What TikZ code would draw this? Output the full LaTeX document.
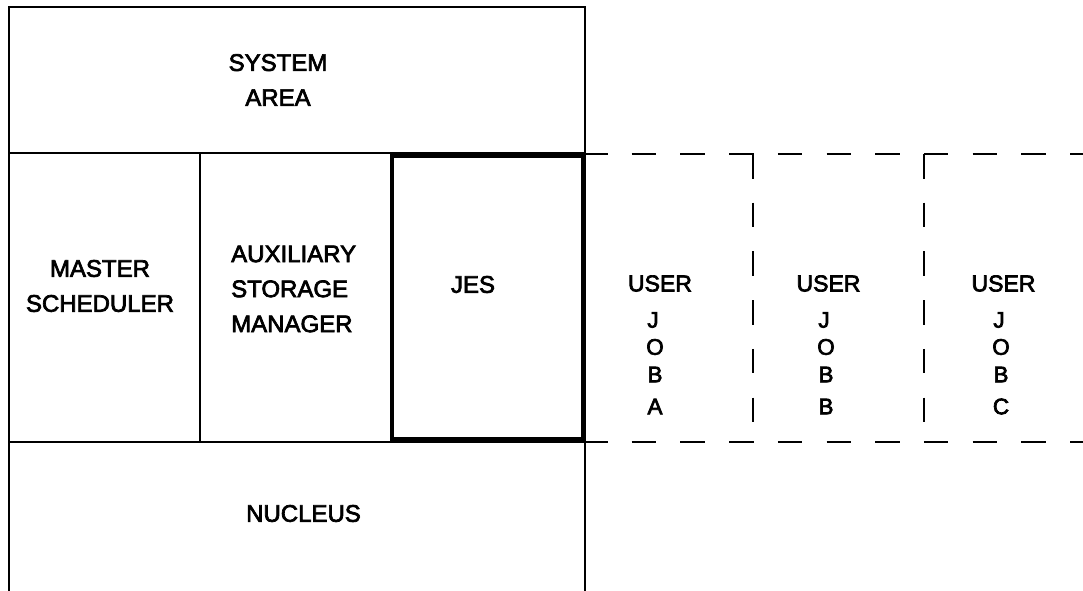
\documentclass[tikz,border=0pt]{standalone}
\usepackage{fontspec}
\setmainfont{Liberation Sans}
\newcommand\heavytxt{\special{pdf:literal direct 2 Tr 0.7 w}}
\begin{document}
\begin{tikzpicture}[x=1pt,y=-1pt,
  thinline/.style={line width=2.4pt},
  thickline/.style={line width=4.8pt},
  dashline/.style={line width=2.6pt, dash pattern=on 24.5pt off 24.2pt},
  lbl/.style={inner sep=0pt, align=center, font=\fontsize{24}{35}\selectfont},
  ltr/.style={inner sep=0pt, anchor=center, font=\fontsize{22.5}{24}\selectfont}
]
\useasboundingbox (0,0) rectangle (1083,590);
% solid frame
\draw[thinline] (9,600) -- (9,7) -- (585,7) -- (585,600);
\draw[thinline] (9,153) -- (585,153);
\draw[thinline] (9,442) -- (585,442);
\draw[thinline] (200,153) -- (200,442);
\draw[thinline] (391,153) -- (391,442);
% JES thick box
\draw[thickline] (392,155.5) rectangle (583,439.5);
% dashed user region
\draw[dashline] (583,154) -- (1090,154);
\draw[dashline] (583,442) -- (1090,442);
\draw[dashline] (753,154) -- (753,423);
\draw[dashline] (924,154) -- (924,423);
% labels
\node[lbl] (sys) at (278,80) {\heavytxt SYSTEM\\\heavytxt AREA};
\node[lbl] (ms) at (100,286) {\heavytxt MASTER\\\heavytxt SCHEDULER};
\node[lbl, align=left, anchor=west] (asm) at (231,289) {\heavytxt AUXILIARY\\\heavytxt STORAGE\\\heavytxt MANAGER};
\node[lbl] (jes) at (473,284.5) {\heavytxt JES};
\node[lbl] (nuc) at (303.5,513.5) {\heavytxt NUCLEUS};
% user jobs
\foreach \ux/\lx/\c/\n in {660/655/A/a, 828.5/826/B/b, 1003.5/1001/C/c}{
  \node[ltr, font=\fontsize{23}{24}\selectfont] (user\n) at (\ux,283.5) {\heavytxt USER};
  \node[ltr] (j\n) at (\lx-2,320) {\heavytxt J};
  \node[ltr] (o\n) at (\lx,347) {\heavytxt O};
  \node[ltr] (b\n) at (\lx,374.5) {\heavytxt B};
  \node[ltr] (l\n) at (\lx,406.5) {\heavytxt \c};
}
\end{tikzpicture}
\end{document}
